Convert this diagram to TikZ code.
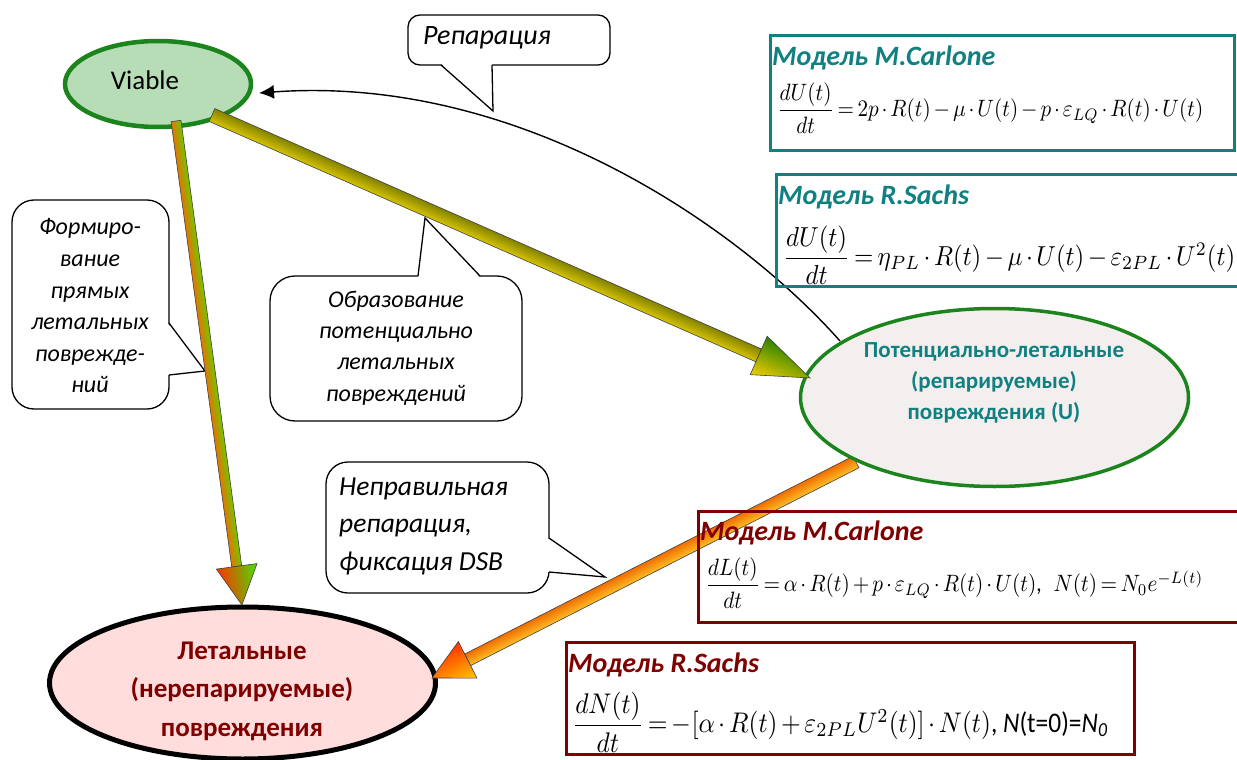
\documentclass[tikz,border=0pt]{standalone}
\usepackage{fontspec}
\setmainfont{Carlito}
\usepackage{amsmath}
\usepackage{graphicx}
\usetikzlibrary{shapes.geometric,arrows.meta,calc}
\definecolor{tealc}{RGB}{16,128,128}
\definecolor{dred}{RGB}{128,0,0}
\definecolor{gborder}{RGB}{28,132,28}
\definecolor{vfill}{RGB}{183,221,183}
\definecolor{ufill}{RGB}{244,239,239}
\definecolor{lfill}{RGB}{255,221,221}
\definecolor{aAtop}{RGB}{110,200,0}
\definecolor{aAmid}{RGB}{195,195,0}
\definecolor{aAbot}{RGB}{225,120,0}
\definecolor{aAhtop}{RGB}{70,225,0}
\definecolor{aAhbot}{RGB}{255,50,0}
\definecolor{aBtop}{RGB}{130,130,0}
\definecolor{aBbot}{RGB}{215,195,0}
\definecolor{aBhtop}{RGB}{40,130,0}
\definecolor{aBhbot}{RGB}{245,205,0}
\definecolor{aCtop}{RGB}{255,190,40}
\definecolor{aCmid}{RGB}{255,140,0}
\definecolor{aCbot}{RGB}{240,110,0}
\definecolor{aChtop}{RGB}{255,200,0}
\definecolor{aChbot}{RGB}{255,50,0}
\newcommand\setfs[2]{\fontsize{#1}{#2}\selectfont}
\newcommand\tightmath{\thinmuskip=2mu\medmuskip=2.5mu plus 1mu\thickmuskip=3mu}
% #1 start, #2 tip, #3 shaft half width, #4 head length, #5 head half width,
% #6 shaft shading, #7 head shading, #8 outline style
\newcommand\fatarrow[8]{%
  \path let \p1=($(#2)-(#1)$), \p2=(#1) in \pgfextra{%
    \pgfmathparse{atan2(\y1,\x1)}\xdef\faAng{\pgfmathresult}%
    \pgfmathparse{veclen(\x1,\y1)}\xdef\faLen{\pgfmathresult}%
    \xdef\faX{\x2}\xdef\faY{\y2}};
  \pgfmathsetmacro\faB{\faLen-#4}%
  \begin{scope}[transform canvas={shift={(\faX,\faY)},rotate=\faAng}]
    \shade[#6] (0,-#3) rectangle (\faB,#3);
    \draw[#8] (0,-#3) rectangle (\faB,#3);
    \shade[#7] (\faB,-#5) -- (\faLen,0) -- (\faB,#5) -- cycle;
    \draw[#8] (\faB,-#5) -- (\faLen,0) -- (\faB,#5) -- cycle;
  \end{scope}}
\tikzset{
  callout/.style={draw=black, line width=1.3pt, fill=white},
  tail/.style={draw=black, line width=1.3pt},
  calltext/.style={font=\itshape, align=center, inner sep=0pt},
  modelbox/.style={line width=3pt},
  title/.style={font=\bfseries\itshape\setfs{28}{30}, anchor=west, inner sep=0pt},
  eqn/.style={anchor=west, inner sep=0pt},
  outl/.style={draw=black!75, line width=0.6pt},
}
\begin{document}
\begin{tikzpicture}[x=1pt,y=-1pt]
\useasboundingbox (0,0) rectangle (1237,760);
\clip (0,0) rectangle (1237,760);
\fill[white] (0,0) rectangle (1237,760);

% ellipses
\node[ellipse, draw=black, line width=5pt, fill=lfill, minimum width=386pt, minimum height=152pt, inner sep=0pt] (lethal) at (242.5,683) {};
\node[ellipse, draw=gborder, line width=4.5pt, fill=vfill, minimum width=186pt, minimum height=86pt, inner sep=0pt] (viable) at (158,84) {};

% callouts
\draw[callout, rounded corners=12pt] (408,15) rectangle (610,65);
\fill[white] (441,63.5) -- (493,111) -- (492,63.5) -- cycle;
\draw[tail] (441,65) -- (493,111) -- (492,65);
\node[calltext, font=\itshape\setfs{28}{30}] (reptxt) at (487,38) {Репарация};

\draw[callout, rounded corners=22pt] (12,200) rectangle (169,409);
\fill[white] (167.5,323) -- (205,371) -- (167.5,375) -- cycle;
\draw[tail] (169,323) -- (205,371) -- (169,375);
\node[calltext, font=\itshape\setfs{24}{31.6}] (formtxt) at (90,306) {Формиро-\\вание\\прямых\\летальных\\поврежде-\\ний};

\draw[callout, rounded corners=25pt] (270,276) rectangle (522,421);
\fill[white] (418,277.5) -- (425,218) -- (480,277.5) -- cycle;
\draw[tail] (418,276) -- (425,218) -- (480,276);
\node[calltext, font=\itshape\setfs{24}{31.3}] (obrtxt) at (396,348) {Образование\\потенциально\\летальных\\повреждений};

\draw[callout, rounded corners=22pt] (326,462) rectangle (549,593);
\fill[white] (547.5,538) -- (605,577) -- (547.5,572) -- cycle;
\draw[tail] (549,538) -- (605,577) -- (549,572);
\node[calltext, align=left, anchor=west, font=\itshape\setfs{27.5}{37.5}] (nepr) at (339,526) {Неправильная\\репарация,\\фиксация DSB};

% arrow coordinates
\coordinate (a1s) at (176,121);
\coordinate (a1e) at (242,605);
\coordinate (a2s) at (212,115);
\coordinate (a2e) at (810,378);
\coordinate (a3s) at (856,462);
\coordinate (a3e) at (432,678);
\coordinate (rs) at (840,341);
\coordinate (re) at (259,93);

% orange arrow (U -> lethal), under the U ellipse
\fatarrow{a3s}{a3e}{6.5}{40}{20.5}{top color=aCtop, middle color=aCmid, bottom color=aCbot}{top color=aChtop, bottom color=aChbot}{outl}

\node[ellipse, draw=gborder, line width=3.5pt, fill=ufill, minimum width=388pt, minimum height=178pt, inner sep=0pt] (pot) at (994.5,397.5) {};

\fatarrow{a1s}{a1e}{5}{39}{20.5}{top color=aAtop, middle color=aAmid, bottom color=aAbot}{top color=aAhtop, bottom color=aAhbot}{outl}
\fatarrow{a2s}{a2e}{7}{56}{21}{top color=aBtop, bottom color=aBbot}{top color=aBhtop, bottom color=aBhbot}{outl}

% repair curve
\draw[line width=1.4pt, -{Latex[length=15pt,width=14pt]}] (rs) .. controls (740,228) and (520,74) .. (re);

% ellipse texts
\node[inner sep=0pt, font=\setfs{27}{30}] (viabletxt) at (145,80) {Viable};
\node[inner sep=0pt, align=center, text=tealc, font=\bfseries\setfs{23}{31}] (pottxt) at (994,383) {Потенциально-летальные\\(репарируемые)\\повреждения (U)};
\node[inner sep=0pt, align=center, text=dred, font=\bfseries\setfs{27}{38.5}] (lethaltxt) at (242,691) {Летальные\\(нерепарируемые)\\повреждения};

% model boxes
\draw[modelbox, draw=tealc] (770,36) rectangle (1234,150);
\node[title, text=tealc] (t1) at (772,58) {Модель M.Carlone};
\node[eqn] (e1) at (777,108) {\resizebox*{426pt}{50pt}{\tightmath$\dfrac{dU(t)}{dt} = 2p\cdot R(t) - \mu\cdot U(t) - p\cdot \varepsilon_{LQ}\cdot R(t)\cdot U(t)$}};

\draw[modelbox, draw=tealc] (776,174) rectangle (1245,286);
\node[title, text=tealc] (t2) at (778,197) {Модель R.Sachs};
\node[eqn] (e2) at (783,255) {\resizebox*{452pt}{58pt}{\tightmath$\dfrac{dU(t)}{dt} = \eta_{PL}\cdot R(t) - \mu\cdot U(t) - \varepsilon_{2PL}\cdot U^2(t)$}};

\draw[modelbox, draw=dred] (698,511) rectangle (1245,622);
\node[title, text=dred] (t3) at (700,533) {Модель M.Carlone};
\node[eqn] (e3) at (705,583) {\resizebox*{498pt}{50pt}{\tightmath$\dfrac{dL(t)}{dt} = \alpha\cdot R(t) + p\cdot\varepsilon_{LQ}\cdot R(t)\cdot U(t)$,\;\;$N(t) = N_0 e^{-L(t)}$}};

\draw[modelbox, draw=dred] (566,642) rectangle (1134,754);
\node[title, text=dred] (t4) at (568,665) {Модель R.Sachs};
\node[eqn] (e4) at (572,722) {\resizebox*{536pt}{60pt}{\tightmath$\dfrac{dN(t)}{dt} = -[\alpha\cdot R(t) + \varepsilon_{2PL} U^2(t)]\cdot N(t)$, \textit{N}(t=0)=\textit{N}\textsubscript{\textit{0}}}};
\end{tikzpicture}
\end{document}
